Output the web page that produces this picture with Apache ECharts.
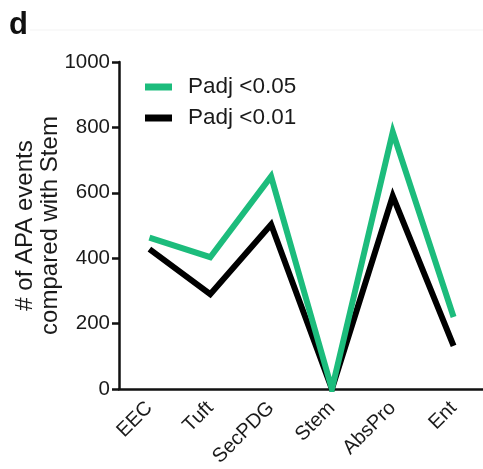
<!DOCTYPE html>
<html>
<head>
<meta charset="utf-8">
<script src="https://cdn.jsdelivr.net/npm/echarts@6/dist/echarts.min.js"></script>
<style>
  html, body { margin: 0; padding: 0; background: #fff; }
  #chart { width: 483px; height: 469px; }
</style>
</head>
<body>
<div id="chart"></div>
<script>
// Cell types along the x axis
var cellTypes = ['EEC', 'Tuft', 'SecPDG', 'Stem', 'AbsPro', 'Ent'];
// Number of APA events versus Stem at two significance thresholds
var padj005 = [463, 403, 650, 0, 786, 220];
var padj001 = [428, 290, 503, 0, 590, 132];
var yTicks = { min: 0, max: 1000, interval: 200 };

var FONT = '"Liberation Sans", Arial, Helvetica, sans-serif';
var GREEN = '#1cbc7c';

var chart = echarts.init(document.getElementById('chart'), null, { renderer: 'canvas' });

chart.setOption({
  animation: false,
  backgroundColor: '#fff',
  graphic: [
    {
      type: 'text', left: 9, top: 10,
      style: { text: 'd', font: 'bold 31px ' + FONT, fill: '#111' }
    },
    {
      type: 'line', shape: { x1: 30, y1: 30, x2: 483, y2: 30 },
      style: { stroke: '#f3f3f3', lineWidth: 1 }
    }
  ],
  legend: {
    left: 145, top: 74, orient: 'vertical', padding: 0,
    itemWidth: 27, itemHeight: 7, itemGap: 5,
    icon: 'rect',
    data: ['Padj <0.05', 'Padj <0.01'],
    textStyle: { fontFamily: FONT, fontSize: 22.5, lineHeight: 26, color: '#1a1a1a', padding: [0, 0, 0, 11] }
  },
  grid: { left: 119, top: 62, width: 365, height: 327, containLabel: false, outerBoundsMode: 'none' },
  xAxis: {
    type: 'category',
    data: cellTypes,
    boundaryGap: true,
    axisLine: { lineStyle: { color: '#111', width: 2.5 } },
    axisTick: { alignWithLabel: true, length: 6, lineStyle: { color: '#111', width: 2.5 } },
    axisLabel: { rotate: 45, fontFamily: FONT, fontSize: 20, color: '#1a1a1a', margin: 16, interval: 0 }
  },
  yAxis: {
    type: 'value',
    min: yTicks.min, max: yTicks.max, interval: yTicks.interval,
    name: '# of APA events\ncompared with Stem',
    nameLocation: 'middle', nameGap: 56, nameMoveOverlap: false,
    nameTextStyle: { fontFamily: FONT, fontSize: 24, lineHeight: 25, color: '#1a1a1a' },
    splitLine: { show: false },
    axisLine: { show: true, lineStyle: { color: '#111', width: 2.5 } },
    axisTick: { show: true, length: 7, lineStyle: { color: '#111', width: 2.5 } },
    axisLabel: {
      fontFamily: FONT, fontSize: 20.5, color: '#1a1a1a', margin: 9,
      formatter: function (v) { return String(v); }
    }
  },
  series: [
    {
      name: 'Padj <0.01', type: 'line', data: padj001,
      symbol: 'none', color: '#000',
      lineStyle: { color: '#000', width: 6, join: 'miter' }
    },
    {
      name: 'Padj <0.05', type: 'line', data: padj005,
      symbol: 'none', color: GREEN,
      lineStyle: { color: GREEN, width: 6, join: 'miter' }
    }
  ]
});
</script>
</body>
</html>
